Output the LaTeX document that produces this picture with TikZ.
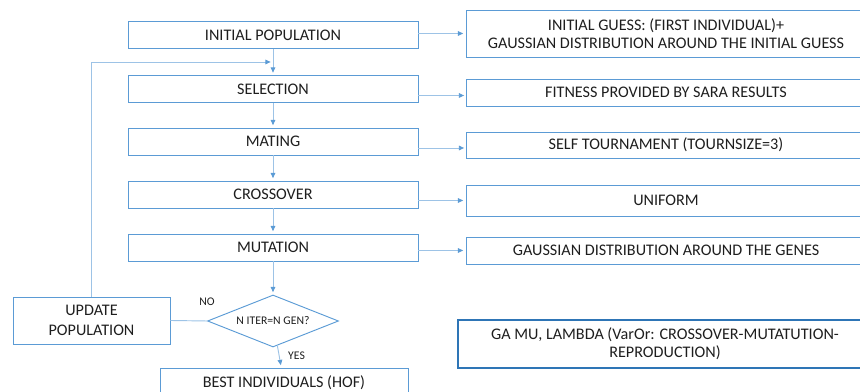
\documentclass[tikz,border=0pt]{standalone}
\usepackage{fontspec}
\setmainfont{Carlito}
\usetikzlibrary{arrows.meta,positioning,calc,shapes.geometric}
\definecolor{boxblue}{RGB}{91,155,213}
\definecolor{lineblue}{RGB}{157,195,230}
\definecolor{darkblue}{RGB}{46,117,182}
\definecolor{txtgray}{RGB}{30,30,30}
\tikzset{
  stepbox/.style={draw=boxblue, thick, minimum height=0.81cm, text=txtgray, font=\fontsize{13.8}{15.5}\selectfont, inner sep=2pt},
  leftbox/.style={stepbox, minimum width=8.7cm},
  rightbox/.style={stepbox, minimum width=12cm, align=center},
  decbox/.style={diamond, aspect=2.52, draw=boxblue, thick, inner sep=0pt, minimum width=3.93cm, minimum height=1.56cm, text=txtgray, font=\fontsize{10}{12}\selectfont},
  flow/.style={-{Triangle[length=1.6mm, width=1.4mm, color=boxblue]}, lineblue, thick, shorten >=2pt},
  plain/.style={lineblue, thick},
  slab/.style={font=\fontsize{10}{12}\selectfont, text=txtgray},
}
\begin{document}
\begin{tikzpicture}
\useasboundingbox (0,0) rectangle (25.8,11.76);
% main loop
\node[leftbox] (init) at (8.19,10.71) {INITIAL POPULATION};
\node[leftbox] (sel) at (8.19,9.09) {SELECTION};
\node[leftbox] (mat) at (8.19,7.515) {MATING};
\node[leftbox] (cross) at (8.19,5.925) {CROSSOVER};
\node[leftbox] (mut) at (8.19,4.335) {MUTATION};
\node[decbox] (dec) at (8.19,2.13) {N ITER=N GEN?};
\node[stepbox, minimum width=4.71cm, minimum height=1.41cm, align=center] (upd) at (2.745,2.145) {UPDATE\\[1pt]POPULATION};
\node[stepbox, minimum width=7.44cm, minimum height=0.9cm] (best) at (8.52,0.27) {BEST INDIVIDUALS (HOF)};
% operators
\node[rightbox, minimum height=1.41cm] (guess) at (19.98,10.755) {INITIAL GUESS: (FIRST INDIVIDUAL)+\\GAUSSIAN DISTRIBUTION AROUND THE INITIAL GUESS};
\node[rightbox] (fit) at (19.98,8.985) {FITNESS PROVIDED BY SARA RESULTS};
\node[rightbox, minimum height=0.78cm] (tour) at (19.98,7.41) {SELF TOURNAMENT (TOURNSIZE=3)};
\node[rightbox, minimum height=0.93cm] (uni) at (19.98,5.745) {UNIFORM};
\node[rightbox] (genes) at (19.98,4.245) {GAUSSIAN DISTRIBUTION AROUND THE GENES};
\node[rightbox, draw=darkblue, line width=2.2pt, minimum width=12.42cm, minimum height=1.44cm] (ga) at (19.95,1.44) {GA MU, LAMBDA (VarOr: CROSSOVER-MUTATUTION-\\REPRODUCTION)};
\coordinate (merge) at (8.19,9.9);
% arrows
\draw[flow] (init) -- (sel);
\draw[flow] (sel) -- (mat);
\draw[flow] (mat) -- (cross);
\draw[flow] (cross) -- (mut);
\draw[flow] (mut) -- (dec);
\draw[flow] (dec) -- node[slab, right=4pt, pos=0.45] {YES} (best);
\draw[plain] (dec.west) -- (upd.east);
\node[slab] at (6.21,2.7) {NO};
\draw[flow] (upd.north) |- (merge);
\draw[flow] (init.east |- guess.west) -- (guess.west);
\draw[flow] (sel.east |- fit.west) ++(0,-0.09) -- ++(1.44,0);
\draw[flow] (mat.east |- tour.west) ++(0,-0.09) -- ++(1.44,0);
\draw[flow] (cross.east |- uni.west) -- (uni.west);
\draw[flow] (mut.east |- genes.west) -- (genes.west);
\end{tikzpicture}
\end{document}
